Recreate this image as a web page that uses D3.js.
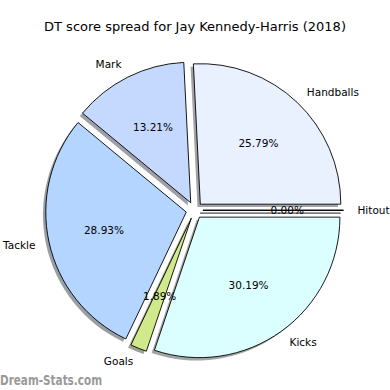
<!DOCTYPE html>
<html>
<head>
<meta charset="utf-8">
<script src="https://cdn.jsdelivr.net/npm/d3@7"></script>
<style>
  body { margin: 0; background: #fff; }
  svg { display: block; font-family: "DejaVu Sans", sans-serif; }
</style>
</head>
<body>
<div id="wrap"></div>
<script>
//  Slices go counter-clockwise from 3 o'clock, same order as matplotlib
const categories = ["Handballs", "Mark", "Tackle", "Goals", "Kicks", "Hitout"];
const scores = [41, 21, 46, 3, 48, 0];
const sliceColors = ["#e9f0fe", "#c5d9ff", "#b4d5ff", "#cfe98b", "#dbffff", "#ffffff"];
const chartTitle = "DT score spread for Jay Kennedy-Harris (2018)";
const watermark = "Dream-Stats.com";

const width = 390, height = 390;
const cx = 194.5, cy = 210.3;
const explode = 0.06;

//  pie radius is 1 in "data" units, like matplotlib
const r = d3.scaleLinear().domain([0, 1]).range([0, 140.5]);

const svg = d3.select("#wrap").append("svg")
  .attr("width", width)
  .attr("height", height);

svg.append("text")
  .attr("x", width / 2)
  .attr("y", 30.5)
  .attr("text-anchor", "middle")
  .style("font-size", "13px")
  .text(chartTitle);

const total = d3.sum(scores);

//  d3 angles start at 12 o'clock clockwise, so go from pi/2 backwards
const pie = d3.pie().sort(null)
  .startAngle(Math.PI / 2)
  .endAngle(Math.PI / 2 - 2 * Math.PI);

const arcs = pie(scores);
const arc = d3.arc().innerRadius(0).outerRadius(r(1));

//  convert a d3 angle to x/y offsets in pixels
function polar(a, rad) {
  return [Math.sin(a) * r(rad), -Math.cos(a) * r(rad)];
}

const g = svg.append("g").attr("transform", "translate(" + cx + "," + cy + ")");

const slices = arcs.map((d, i) => {
  const mid = (d.startAngle + d.endAngle) / 2;
  const off = polar(mid, explode);
  return { d: d, i: i, mid: mid, ox: off[0], oy: off[1] };
});

//  shadows first, shifted left and down by 0.02 radius
g.selectAll(".shadow")
  .data(slices)
  .enter()
  .append("path")
  .attr("class", "shadow")
  .attr("transform", (s) => "translate(" + (s.ox - r(0.02)) + "," + (s.oy + r(0.02)) + ")")
  .attr("d", (s) => arc(s.d))
  .attr("fill", (s) => {
    const c = d3.rgb(sliceColors[s.i]);
    return d3.rgb(c.r * 0.3, c.g * 0.3, c.b * 0.3);
  })
  .attr("fill-opacity", 0.5)
  .attr("stroke", (s) => (scores[s.i] === 0 ? "#666" : "none"))
  .attr("stroke-width", 1);

g.selectAll(".slice")
  .data(slices)
  .enter()
  .append("path")
  .attr("class", "slice")
  .attr("transform", (s) => "translate(" + s.ox + "," + s.oy + ")")
  .attr("d", (s) => arc(s.d))
  .attr("fill", (s) => sliceColors[s.i])
  .attr("stroke", "#000")
  .attr("stroke-width", 0.9)
  .attr("stroke-linejoin", "miter");

//  zero-size slice still shows its edge as a line
g.selectAll(".zero")
  .data(slices.filter((s) => scores[s.i] === 0))
  .enter()
  .append("line")
  .attr("x1", (s) => s.ox)
  .attr("y1", (s) => s.oy)
  .attr("x2", (s) => s.ox + polar(s.d.startAngle, 1)[0])
  .attr("y2", (s) => s.oy + polar(s.d.startAngle, 1)[1])
  .attr("stroke", "#000")
  .attr("stroke-width", 0.9);

//  category labels at 1.1 radius
g.selectAll(".label")
  .data(slices)
  .enter()
  .append("text")
  .attr("class", "label")
  .attr("x", (s) => s.ox + polar(s.mid, 1.1)[0])
  .attr("y", (s) => s.oy + polar(s.mid, 1.1)[1])
  .attr("dy", "0.35em")
  .attr("text-anchor", (s) => (Math.sin(s.mid) > 0 ? "start" : "end"))
  .style("font-size", "10.5px")
  .text((s) => categories[s.i]);

//  percentages at 0.6 radius
g.selectAll(".pct")
  .data(slices)
  .enter()
  .append("text")
  .attr("class", "pct")
  .attr("x", (s) => s.ox + polar(s.mid, 0.6)[0])
  .attr("y", (s) => s.oy + polar(s.mid, 0.6)[1])
  .attr("dy", "0.35em")
  .attr("text-anchor", "middle")
  .style("font-size", "10.5px")
  .text((s) => ((scores[s.i] / total) * 100).toFixed(2) + "%");

svg.append("text")
  .attr("x", 0)
  .attr("y", 385)
  .attr("textLength", 102)
  .attr("lengthAdjust", "spacingAndGlyphs")
  .style("font-size", "13.5px")
  .style("font-weight", "600")
  .attr("fill", "#999")
  .text(watermark);
</script>
</body>
</html>
